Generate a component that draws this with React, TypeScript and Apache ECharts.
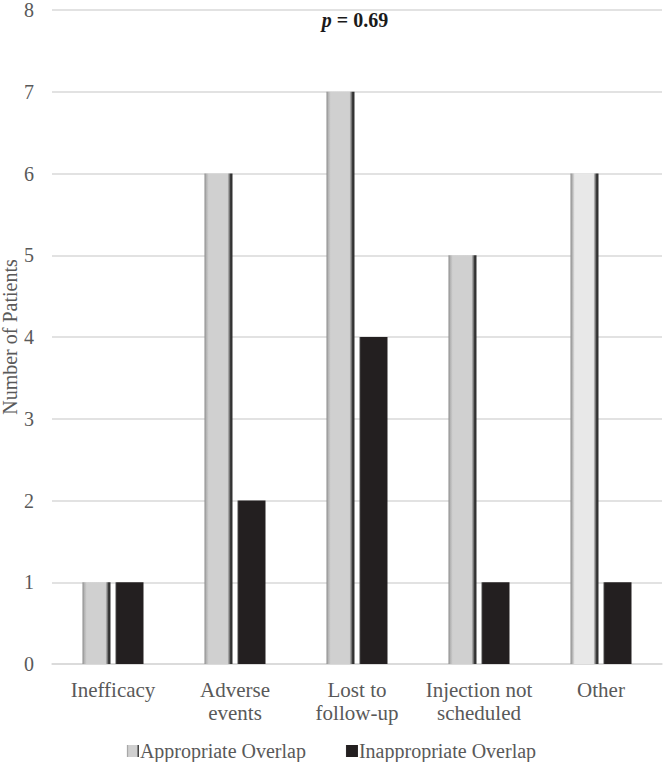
import React, { useEffect, useRef } from "react";
import * as echarts from "echarts";

const categories = ["Inefficacy", "Adverse\nevents", "Lost to\nfollow-up", "Injection not\nscheduled", "Other"];
const appropriate = [1, 6, 7, 5, 6];
const inappropriate = [1, 2, 4, 1, 1];
const seriesNames = ["Appropriate Overlap", "Inappropriate Overlap"];
const yTicks = [0, 8, 1];

const FONT = "Liberation Serif";

function grayGrad(base: string) {
  return new echarts.graphic.LinearGradient(0, 0, 1, 0, [
    { offset: 0, color: "#8a8a8a" },
    { offset: 0.07, color: "#b5b5b5" },
    { offset: 0.15, color: base },
    { offset: 0.82, color: base },
    { offset: 0.88, color: "#8a8a8a" },
    { offset: 0.93, color: "#3a3a3a" },
    { offset: 1, color: "#2a2a2a" },
  ]);
}

function blackGrad() {
  return new echarts.graphic.LinearGradient(0, 0, 1, 0, [
    { offset: 0, color: "#4a4a4a" },
    { offset: 0.06, color: "#231f20" },
    { offset: 1, color: "#231f20" },
  ]);
}

export default function App() {
  const ref = useRef<HTMLDivElement>(null);
  useEffect(() => {
    const chart = echarts.init(ref.current!, null, { renderer: "svg" });
    chart.setOption({
      animation: false,
      textStyle: { fontFamily: FONT },
      title: {
        text: "{i|p} = 0.69",
        left: 350,
        top: 5,
        textAlign: "center",
        textStyle: {
          fontFamily: FONT,
          fontSize: 20,
          fontWeight: "bold",
          color: "#1a1a1a",
          rich: {
            i: { fontFamily: FONT, fontSize: 20, fontWeight: "bold", fontStyle: "italic", color: "#1a1a1a" },
          },
        },
      },
      legend: {
        top: 736,
        left: "center",
        itemWidth: 12,
        itemHeight: 12,
        itemGap: 40,
        icon: "rect",
        textStyle: { fontFamily: FONT, fontSize: 20, lineHeight: 18, color: "#595959", padding: [0, 0, 0, -4] },
        data: seriesNames,
      },
      grid: { left: 52, right: 1, top: 10, bottom: 98, outerBoundsMode: "none", containLabel: false },
      xAxis: {
        type: "category",
        data: categories,
        axisLine: { show: true, lineStyle: { color: "#d9d9d9", width: 1.5 } },
        axisTick: { show: false },
        axisLabel: { fontFamily: FONT, fontSize: 21, color: "#595959", lineHeight: 23, margin: 14, interval: 0 },
      },
      yAxis: {
        type: "value",
        min: yTicks[0],
        max: yTicks[1],
        interval: yTicks[2],
        name: "Number of Patients",
        nameLocation: "middle",
        nameGap: 33,
        nameMoveOverlap: false,
        nameTextStyle: { fontFamily: FONT, fontSize: 20, lineHeight: 18, color: "#595959" },
        axisLine: { show: false },
        axisTick: { show: false },
        axisLabel: { fontFamily: FONT, fontSize: 20, lineHeight: 14, color: "#595959", margin: 18 },
        splitLine: { lineStyle: { color: "#d9d9d9", width: 1.5 } },
      },
      series: [
        {
          name: seriesNames[0],
          type: "bar",
          barGap: "18%",
          barCategoryGap: "50%",
          itemStyle: { color: grayGrad("#d0d0d0") },
          data: appropriate.map((v, i) =>
            i === 4 ? { value: v, itemStyle: { color: grayGrad("#e8e8e8") } } : v
          ),
        },
        {
          name: seriesNames[1],
          type: "bar",
          itemStyle: { color: blackGrad() },
          data: inappropriate,
        },
      ],
    });
    return () => chart.dispose();
  }, []);
  return <div ref={ref} style={{ width: 663, height: 762, position: "absolute", left: 0, top: 0 }} />;
}
